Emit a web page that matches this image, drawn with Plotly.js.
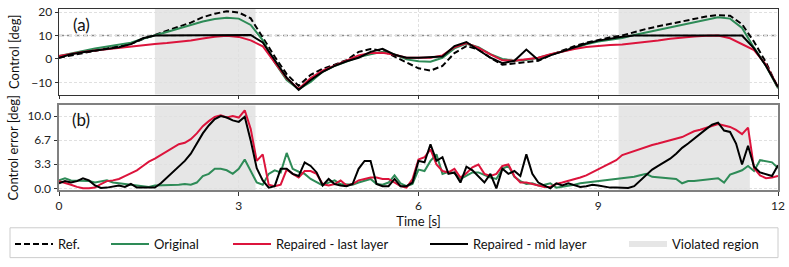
<!DOCTYPE html>
<html>
<head>
<meta charset="utf-8">
<script src="https://cdn.plot.ly/plotly-3.0.1.min.js"></script>
<style>html,body{margin:0;padding:0;background:#fff;}#chart{width:789px;height:267px;}</style>
</head>
<body>
<div id="chart"></div>
<script>
// ---- data: panel (a) control signals, sampled every 0.2 s ----
const tControl = [0,0.2,0.4,0.6,0.8,1,1.2,1.4,1.6,1.8,2,2.2,2.4,2.6,2.8,3,3.2,3.4,3.6,3.8,4,4.2,4.4,4.6,4.8,5,5.2,5.4,5.6,5.8,6,6.2,6.4,6.6,6.8,7,7.2,7.4,7.6,7.8,8,8.2,8.4,8.6,8.8,9,9.2,9.4,9.6,9.8,10,10.2,10.4,10.6,10.8,11,11.2,11.4,11.6,11.8,12];
const refControl = [0.5,1.5,2.5,3.6,4.4,5.3,6.4,8.5,10.2,11.8,13.8,15.5,17.8,19.3,20.3,19.8,17.3,9.0,1.0,-6.5,-11.5,-6.8,-4.2,-2.5,-0.5,3.0,4.2,3.5,1.0,-1.8,-4.0,-5.0,-3.0,2.5,5.5,4.0,0.5,-2.5,-2.0,-1.5,-0.8,1.6,3.6,5.4,6.9,8.2,9.2,10.0,11.5,12.8,13.9,15.0,16.1,17.2,18.1,18.7,18.4,14.8,7.3,-1.5,-12.5];
const originalControl = [1.2,2.4,3.4,4.4,5.2,6.0,6.9,8.6,10.2,11.5,13.0,14.6,16.0,17.0,17.6,17.2,14.5,8.0,-1.5,-9.0,-13.0,-9.8,-5.5,-3.0,-1.0,0.8,2.0,3.0,2.0,-0.2,-1.0,-1.2,0.5,4.5,6.5,5.0,2.0,0.0,-0.8,-0.5,0.5,2.0,3.2,4.5,6.2,7.4,8.2,8.9,10.2,11.3,12.5,13.5,14.7,15.9,17.0,17.8,17.2,13.2,4.8,-3.0,-12.5];
const lastLayerControl = [1.2,2.2,3.0,3.6,4.2,4.7,5.3,5.9,6.4,6.8,7.2,7.9,8.7,9.5,9.9,9.4,7.9,5.4,-1.5,-8.3,-12.8,-8.2,-5.0,-2.8,-0.8,1.5,2.5,2.6,1.8,0.5,0.5,0.5,1.5,5.0,6.8,4.7,1.9,-0.6,-0.8,-0.3,0.5,2.0,3.2,4.2,5.1,5.6,5.9,6.2,6.7,7.2,7.9,8.6,9.2,9.6,9.9,10.0,8.8,6.2,3.8,-2.5,-12.0];
const midLayerControl = [0.5,2.0,2.8,3.6,4.3,5.0,6.3,8.8,10.0,10.0,10.0,10.0,10.0,10.0,10.1,10.1,10.2,7.0,-0.5,-8.0,-13.2,-9.0,-5.5,-3.0,-1.0,0.5,3.0,4.3,1.8,0.5,0.5,0.8,1.0,5.5,7.2,3.8,0.5,-1.8,-0.8,4.0,-0.5,1.5,3.3,4.8,6.6,7.8,8.7,9.5,10.0,10.0,10.0,10.0,10.0,10.0,10.0,10.0,10.0,10.0,4.5,-3.0,-12.0];
const controlLimit = [10];

// ---- data: panel (b) control error, sampled every 0.1 s ----
const tError = [0,0.1,0.2,0.3,0.4,0.5,0.6,0.7,0.8,0.9,1,1.1,1.2,1.3,1.4,1.5,1.6,1.7,1.8,1.9,2,2.1,2.2,2.3,2.4,2.5,2.6,2.7,2.8,2.9,3,3.1,3.2,3.3,3.4,3.5,3.6,3.7,3.8,3.9,4,4.1,4.2,4.3,4.4,4.5,4.6,4.7,4.8,4.9,5,5.1,5.2,5.3,5.4,5.5,5.6,5.7,5.8,5.9,6,6.1,6.2,6.3,6.4,6.5,6.6,6.7,6.8,6.9,7,7.1,7.2,7.3,7.4,7.5,7.6,7.7,7.8,7.9,8,8.1,8.2,8.3,8.4,8.5,8.6,8.7,8.8,8.9,9,9.1,9.2,9.3,9.4,9.5,9.6,9.7,9.8,9.9,10,10.1,10.2,10.3,10.4,10.5,10.6,10.7,10.8,10.9,11,11.1,11.2,11.3,11.4,11.5,11.6,11.7,11.8,11.9,12];
const originalError = [1.1,1.4,1.1,1.1,1.0,1.0,0.8,1.0,1.1,0.8,0.7,0.6,0.5,0.5,0.4,0.2,0.4,0.4,0.4,0.5,0.5,0.6,0.5,0.8,1.7,2.0,2.7,2.7,2.5,2.0,2.7,4.0,2.4,0.8,0.5,2.0,2.5,2.2,4.9,2.7,2.3,2.0,1.3,0.8,0.4,0.8,1.1,0.6,0.5,0.5,0.8,1.1,1.3,0.6,0.5,0.8,1.8,0.7,0.3,0.6,2.6,2.4,3.8,4.7,2.0,2.3,2.1,1.3,1.7,2.2,2.2,1.8,1.5,1.3,2.7,3.1,1.6,1.0,0.6,0.7,0.4,0.5,0.7,0.1,0.2,0.4,0.5,0.7,0.8,0.8,1.0,1.1,1.2,1.3,1.4,1.5,1.6,1.8,2.0,1.6,1.5,1.5,1.3,1.3,0.7,1.0,1.0,1.1,1.2,1.3,1.4,0.8,1.9,2.2,2.5,3.1,2.4,3.9,3.7,3.6,2.8];
const lastLayerError = [1.0,0.8,0.5,0.2,0.0,0.0,0.1,0.6,1.0,1.1,1.3,1.7,2.1,2.5,3.1,3.7,4.1,4.6,5.1,5.6,6.1,6.3,6.8,7.6,8.6,9.3,9.9,10.1,9.8,10.0,9.8,10.8,8.2,3.8,4.7,0.5,0.3,0.5,2.6,2.0,1.5,2.4,2.4,2.0,0.6,0.4,0.6,1.1,0.4,0.6,1.1,1.3,1.5,1.5,1.3,1.3,0.8,0.3,0.1,1.3,4.0,4.3,5.4,3.3,2.4,2.2,2.7,1.5,2.1,2.9,3.3,2.0,1.7,2.0,3.1,3.3,1.7,0.8,0.8,0.6,0.5,0.2,0.2,0.6,0.8,1.0,1.3,1.5,1.8,2.2,2.6,3.0,3.4,3.9,4.6,4.9,5.2,5.5,5.8,6.0,6.2,6.4,6.6,6.9,7.1,7.5,7.9,8.1,8.4,8.7,8.9,8.7,8.5,8.1,7.5,8.4,2.8,1.8,1.4,1.5,1.7];
const midLayerError = [0.7,1.0,0.8,1.0,1.4,1.1,0.4,0.05,0.1,0.2,0.4,0.2,0.6,0.1,0.1,0.0,0.1,0.7,1.5,2.3,3.0,3.8,4.8,6.2,7.6,8.7,9.6,10.0,9.8,9.4,9.2,9.9,6.6,2.8,1.1,0.1,0.3,2.7,2.7,2.0,1.7,3.6,3.1,2.2,0.4,1.3,0.6,0.4,0.3,0.6,2.7,3.8,3.8,0.6,0.3,0.3,1.3,0.3,0.3,0.8,3.8,3.6,6.1,3.8,4.3,2.0,2.2,0.8,3.0,2.5,1.6,0.8,2.0,0.0,2.7,2.0,2.4,1.7,4.7,2.0,0.8,0.4,0.0,0.7,0.4,0.7,0.4,0.2,0.3,0.5,0.4,0.2,0.1,0.1,0.05,0.05,0.3,1.1,1.8,2.6,3.1,3.6,4.1,4.8,5.6,6.2,6.9,7.6,8.2,8.8,9.1,8.0,7.8,6.2,3.3,5.9,3.0,2.2,1.9,1.7,3.2];

// ---- violated regions (time in s) ----
const violatedStart = [1.6, 9.34];
const violatedEnd = [3.28, 11.53];

// ---- axis ticks ----
const xTickVals = [0, 3, 6, 9, 12];
const xTickText = ['0', '3', '6', '9', '12'];
const yTopTickVals = [-10, 0, 10, 20];
const yBotTickVals = [0, 10/3, 20/3, 10];
const yBotTickText = ['0.0', '3.3', '6.7', '10.0'];

const GREEN = '#2e8b57', RED = '#dc143c', BLACK = '#000000', REGION = '#e6e6e6';
const FONT = 'Lato, "DejaVu Sans", sans-serif';

const traces = [
  {x: tControl, y: refControl, xaxis:'x', yaxis:'y', mode:'lines', name:'Ref.', legend:'legend',
   line:{color:BLACK, width:2, dash:'6px,3px'}},
  {x: tControl, y: originalControl, xaxis:'x', yaxis:'y', mode:'lines', name:'Original', legend:'legend2',
   line:{color:GREEN, width:2}},
  {x: tControl, y: lastLayerControl, xaxis:'x', yaxis:'y', mode:'lines', name:'Repaired - last layer', legend:'legend3',
   line:{color:RED, width:2}},
  {x: tControl, y: midLayerControl, xaxis:'x', yaxis:'y', mode:'lines', name:'Repaired - mid layer', legend:'legend4',
   line:{color:BLACK, width:2}},
  {x: tError, y: originalError, xaxis:'x2', yaxis:'y2', mode:'lines', showlegend:false,
   line:{color:GREEN, width:2}},
  {x: tError, y: lastLayerError, xaxis:'x2', yaxis:'y2', mode:'lines', showlegend:false,
   line:{color:RED, width:2}},
  {x: tError, y: midLayerError, xaxis:'x2', yaxis:'y2', mode:'lines', showlegend:false,
   line:{color:BLACK, width:2}},
  {x: [null], y: [null], xaxis:'x', yaxis:'y', mode:'none', fill:'toself', fillcolor:REGION,
   name:'Violated region', legend:'legend5'}
];

const shapes = [];
violatedStart.forEach((s, i) => {
  ['', '2'].forEach(ax => {
    shapes.push({type:'rect', xref:'x'+ax, yref:'y'+ax+' domain', x0:s, x1:violatedEnd[i], y0:0, y1:1,
      fillcolor:REGION, line:{width:0}, layer:'below'});
  });
});
controlLimit.forEach(v => shapes.push({type:'line', xref:'x domain', yref:'y', x0:0, x1:1, y0:v, y1:v,
  line:{color:'#8c8c8c', width:1.3, dash:'5px,3px'}, layer:'below'}));
// legend frame
const W = 789, H = 267, ML = 59, MR = 11, MT = 9, MB = 76;
const pw = W - ML - MR, ph = H - MT - MB;
const px2x = px => (px - ML) / pw;
const px2y = py => (H - MB - py) / ph;
shapes.push({type:'rect', xref:'paper', yref:'paper', x0:px2x(10), x1:px2x(778), y0:px2y(229), y1:px2y(259),
  line:{color:'#cccccc', width:1}, fillcolor:'rgba(255,255,255,0.8)', layer:'above'});

const gridCommon = {showgrid:true, gridcolor:'#e0e0e0', griddash:'3px,2px', gridwidth:1, zeroline:false,
  ticks:'outside', ticklen:3.5, tickwidth:1, tickcolor:'#333', tickfont:{family:FONT, size:12, color:'#222'}};

const legendBase = (px) => ({x:px2x(px), xanchor:'left', y:px2y(244), yanchor:'middle', orientation:'h',
  bgcolor:'rgba(0,0,0,0)', borderwidth:0, font:{family:FONT, size:13, color:'#111'}, itemwidth:38});

const layout = {
  width: W, height: H,
  margin: {l:ML, r:MR, t:MT, b:MB, pad:0},
  paper_bgcolor:'#ffffff', plot_bgcolor:'#ffffff',
  font:{family:FONT, size:12, color:'#222'},
  xaxis: Object.assign({}, gridCommon, {domain:[0,1], range:[0,12], anchor:'y', tickvals:xTickVals, ticktext:xTickText,
    showticklabels:false, showline:true, mirror:true, linecolor:'#333', linewidth:1}),
  yaxis: Object.assign({}, gridCommon, {domain:[(H-MB-95)/ph, 1], range:[-15.2, 21.3], anchor:'x', tickvals:yTopTickVals,
    showline:true, mirror:true, linecolor:'#333', linewidth:1,
    title:{text:'Control [deg]', font:{family:FONT, size:13, color:'#111'}, standoff:8}}),
  xaxis2: Object.assign({}, gridCommon, {domain:[0,1], range:[0,12], anchor:'y2', matches:'x', tickvals:xTickVals, ticktext:xTickText,
    showline:true, mirror:true, linecolor:'#808080', linewidth:2,
    title:{text:'Time [s]', font:{family:FONT, size:13, color:'#111'}, standoff:4}}),
  yaxis2: Object.assign({}, gridCommon, {domain:[0, (H-MB-106)/ph], range:[-0.23, 11.47], anchor:'x2', tickvals:yBotTickVals, ticktext:yBotTickText,
    showline:true, mirror:true, linecolor:'#808080', linewidth:2,
    title:{text:'Control error [deg]', font:{family:FONT, size:13, color:'#111'}, standoff:6}}),
  shapes: shapes,
  annotations: [
    {text:'(a)', xref:'x domain', yref:'y domain', x:px2x(81), y:(95-25)/86, xanchor:'center', yanchor:'middle', showarrow:false,
     font:{family:FONT, size:17, color:'#111'}},
    {text:'(b)', xref:'x2 domain', yref:'y2 domain', x:px2x(81), y:(191-120)/85, xanchor:'center', yanchor:'middle', showarrow:false,
     font:{family:FONT, size:17, color:'#111'}}
  ],
  legend: legendBase(10),
  legend2: legendBase(106),
  legend3: legendBase(228),
  legend4: legendBase(425),
  legend5: legendBase(624),
  showlegend: true
};

Plotly.newPlot('chart', traces, layout, {displayModeBar:false, staticPlot:true});
</script>
</body>
</html>
